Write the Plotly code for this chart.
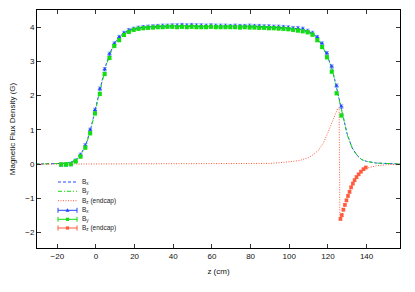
import plotly.graph_objects as go

# ---- Simulation curves (z in cm, B in G) ----
sim_z = [-31, -25, -20, -17.5, -15, -12.5, -10, -7.5, -5, -2.5, 0, 2.5, 5, 7.5, 10, 12.5, 15,
         17.5, 20, 25, 30, 35, 40, 45, 50, 55, 60, 65, 70, 75, 80, 85, 90, 95, 100, 105,
         107.5, 110, 112.5, 115, 117.5, 120, 122.5, 125, 127.5, 130, 132.5, 135, 137.5,
         140, 145, 150, 158]
sim_bx = [0.0, 0.0, 0.01, 0.02, 0.03, 0.07, 0.14, 0.32, 0.6, 1.08, 1.68, 2.3, 2.87, 3.28,
          3.56, 3.74, 3.85, 3.92, 3.96, 4.0, 4.02, 4.03, 4.04, 4.05, 4.05, 4.05, 4.04, 4.04,
          4.04, 4.04, 4.03, 4.02, 4.01, 3.99, 3.97, 3.95, 3.92, 3.87, 3.8, 3.66, 3.42, 3.12,
          2.72, 2.1, 1.45, 0.87, 0.48, 0.26, 0.13, 0.08, 0.03, 0.01, 0.0]
sim_by = [0.0, 0.0, 0.01, 0.02, 0.03, 0.06, 0.13, 0.3, 0.57, 1.04, 1.63, 2.25, 2.82, 3.24,
          3.53, 3.72, 3.83, 3.9, 3.94, 3.98, 4.0, 4.01, 4.02, 4.02, 4.02, 4.02, 4.02, 4.02,
          4.02, 4.01, 4.01, 4.0, 3.99, 3.97, 3.95, 3.93, 3.9, 3.85, 3.78, 3.64, 3.4, 3.1,
          2.7, 2.08, 1.44, 0.86, 0.48, 0.26, 0.13, 0.08, 0.03, 0.01, 0.0]

sim_zend = [-31, -20, 0, 20, 40, 60, 80, 90, 95, 100, 105, 110, 112.5, 115, 117.5, 120,
            122.5, 124, 125, 125.8, 126.2, 127, 128, 129, 130, 132, 134, 136, 138, 140,
            145, 150, 158]
sim_bend = [0.0, 0.0, 0.0, 0.0, 0.0, 0.0, 0.01, 0.02, 0.04, 0.06, 0.1, 0.19, 0.28, 0.4,
            0.6, 0.92, 1.3, 1.52, 1.62, 1.65, -1.6, -1.52, -1.33, -1.14, -0.95, -0.67,
            -0.45, -0.3, -0.19, -0.12, -0.05, -0.02, 0.0]

# ---- Measurements ----
meas_z = [-18, -15.5, -13, -10.5, -8, -5.5, -3, -0.5, 2, 4.5, 7, 9.5, 12, 14.5, 17, 19.5,
          22, 24.5, 27, 29.5, 32, 34.5, 37, 39.5, 42, 44.5, 47, 49.5, 52, 54.5, 57, 59.5,
          62, 64.5, 67, 69.5, 72, 74.5, 77, 79.5, 82, 84.5, 87, 89.5, 92, 94.5, 97, 99.5,
          102, 104.5, 107, 109.5, 112, 114.5, 117, 119.5, 122, 124.5, 127]
meas_bx = [-0.02, -0.02, 0.0, 0.1, 0.27, 0.55, 1.0, 1.58, 2.2, 2.77, 3.22, 3.52, 3.71, 3.83,
           3.91, 3.95, 3.98, 4.0, 4.01, 4.02, 4.03, 4.04, 4.04, 4.05, 4.05, 4.06, 4.05,
           4.06, 4.05, 4.05, 4.04, 4.05, 4.04, 4.04, 4.04, 4.03, 4.04, 4.03, 4.03, 4.04,
           4.03, 4.03, 4.02, 4.02, 4.01, 4.01, 4.0, 3.99, 3.97, 3.97, 3.95, 3.89, 3.83,
           3.71, 3.52, 3.24, 2.85, 2.29, 1.68]
meas_by = [-0.01, -0.01, 0.0, 0.08, 0.22, 0.48, 0.9, 1.48, 2.05, 2.63, 3.1, 3.45, 3.62,
           3.77, 3.86, 3.92, 3.95, 3.97, 3.98, 3.99, 4.0, 4.0, 4.01, 4.01, 4.0, 4.01, 4.0,
           4.01, 4.0, 4.0, 4.0, 4.01, 4.0, 4.0, 4.0, 4.0, 4.0, 3.99, 4.0, 3.99, 3.99, 3.98,
           3.98, 3.97, 3.97, 3.96, 3.95, 3.94, 3.92, 3.9, 3.88, 3.85, 3.78, 3.62, 3.42,
           3.12, 2.7, 2.07, 1.42]
meas_zend = [126.5, 127.2, 128, 128.8, 129.6, 130.4, 131.2, 132, 132.9, 133.8, 134.8,
             135.9, 137.1, 138.4, 139.6]
meas_bend = [-1.6, -1.49, -1.33, -1.19, -1.06, -0.93, -0.81, -0.68, -0.57, -0.47, -0.38,
             -0.3, -0.22, -0.15, -0.1]

BLUE = "#2546ff"
GREEN = "#11dd11"
RED = "#ff5a3c"
FONT = "Liberation Sans, Arial, sans-serif"
DASH_X = "3px,2px"
DASH_Y = "4px,2px,1px,2px"
DASH_Z = "1px,1.5px"

fig = go.Figure()
fig.add_trace(go.Scatter(x=sim_z, y=sim_bx, mode="lines",
                         line=dict(color=BLUE, width=1, dash=DASH_X)))
fig.add_trace(go.Scatter(x=sim_z, y=sim_by, mode="lines",
                         line=dict(color=GREEN, width=1, dash=DASH_Y)))
fig.add_trace(go.Scatter(x=sim_zend, y=sim_bend, mode="lines",
                         line=dict(color=RED, width=1, dash=DASH_Z)))
fig.add_trace(go.Scatter(x=meas_z, y=meas_bx, mode="markers",
                         marker=dict(color=BLUE, size=4, symbol="triangle-up"),
                         error_y=dict(type="constant", value=0.05, color="rgba(70,110,255,0.6)",
                                      thickness=1, width=2)))
fig.add_trace(go.Scatter(x=meas_z, y=meas_by, mode="markers",
                         marker=dict(color=GREEN, size=4, symbol="square"),
                         error_y=dict(type="constant", value=0.05, color="rgba(60,230,60,0.6)",
                                      thickness=1, width=2)))
fig.add_trace(go.Scatter(x=meas_zend, y=meas_bend, mode="markers",
                         marker=dict(color=RED, size=3.5, symbol="square"),
                         error_y=dict(type="constant", value=0.04, color="rgba(255,110,90,0.6)",
                                      thickness=1, width=2)))

# ---- manual legend (compact, gnuplot-style) ----
L, R, T, B = 37, 15, 10, 44
PW, PH = 415 - L - R, 292 - T - B
def px(x):
    return (x - L) / PW
def py(y):
    return (292 - B - y) / PH

rows = [182, 191.3, 200.7, 210.3, 219.3, 228]
labels = ["B<sub>x</sub>", "B<sub>y</sub>", "B<sub>z</sub> (endcap)",
          "B<sub>x</sub>", "B<sub>y</sub>", "B<sub>z</sub> (endcap)"]
colors = [BLUE, GREEN, RED, BLUE, GREEN, RED]
dashes = [DASH_X, DASH_Y, DASH_Z, "solid", "solid", "solid"]
symbols = [None, None, None, "tri", "sq", "sq"]
shapes = []
annotations = []
x0l, x1l = 58, 77
for yy, lab, col, dsh, sym in zip(rows, labels, colors, dashes, symbols):
    shapes.append(dict(type="line", xref="paper", yref="paper", x0=px(x0l), x1=px(x1l),
                       y0=py(yy), y1=py(yy), line=dict(color=col, width=1, dash=dsh)))
    if sym:
        for xc in (x0l, x1l):
            shapes.append(dict(type="line", xref="paper", yref="paper", x0=px(xc), x1=px(xc),
                               y0=py(yy - 2.5), y1=py(yy + 2.5), line=dict(color=col, width=1)))
        xm = (x0l + x1l) / 2
        if sym == "tri":
            shapes.append(dict(type="path", xref="paper", yref="paper", xsizemode="pixel",
                               ysizemode="pixel", xanchor=px(xm), yanchor=py(yy),
                               path="M -2,-1.5 L 2,-1.5 L 0,2 Z", fillcolor=col,
                               line=dict(width=0)))
        else:
            shapes.append(dict(type="rect", xref="paper", yref="paper", xsizemode="pixel",
                               ysizemode="pixel", xanchor=px(xm), yanchor=py(yy),
                               x0=-1.6, x1=1.6, y0=-1.6, y1=1.6, fillcolor=col,
                               line=dict(width=0)))
    annotations.append(dict(xref="paper", yref="paper", x=px(80), y=py(yy), text=lab,
                            showarrow=False, xanchor="left", yanchor="middle",
                            font=dict(family=FONT, size=6.5, color="#222")))

fig.update_layout(
    width=415, height=292,
    margin=dict(l=L, r=R, t=T, b=B),
    paper_bgcolor="white", plot_bgcolor="white",
    showlegend=False,
    font=dict(family=FONT, size=8, color="#111"),
    shapes=shapes, annotations=annotations,
)
fig.update_xaxes(range=[-30.5, 157.3], tickvals=[-20, 0, 20, 40, 60, 80, 100, 120, 140],
                 showline=True, linecolor="black", linewidth=1, mirror="ticks",
                 ticks="inside", ticklen=4, tickcolor="#333", showgrid=False, zeroline=False,
                 tickfont=dict(size=8), title=dict(text="z (cm)", font=dict(size=8), standoff=8))
fig.update_yaxes(range=[-2.45, 4.5], tickvals=[-2, -1, 0, 1, 2, 3, 4],
                 showline=True, linecolor="black", linewidth=1, mirror="ticks",
                 ticks="inside", ticklen=4, tickcolor="#333", showgrid=False, zeroline=False,
                 tickfont=dict(size=8),
                 title=dict(text="Magnetic Flux Density (G)", font=dict(size=8), standoff=8))

fig.write_html("out.html", config={"displayModeBar": False},
               post_script="document.body.style.margin='0';document.body.style.padding='0';")
